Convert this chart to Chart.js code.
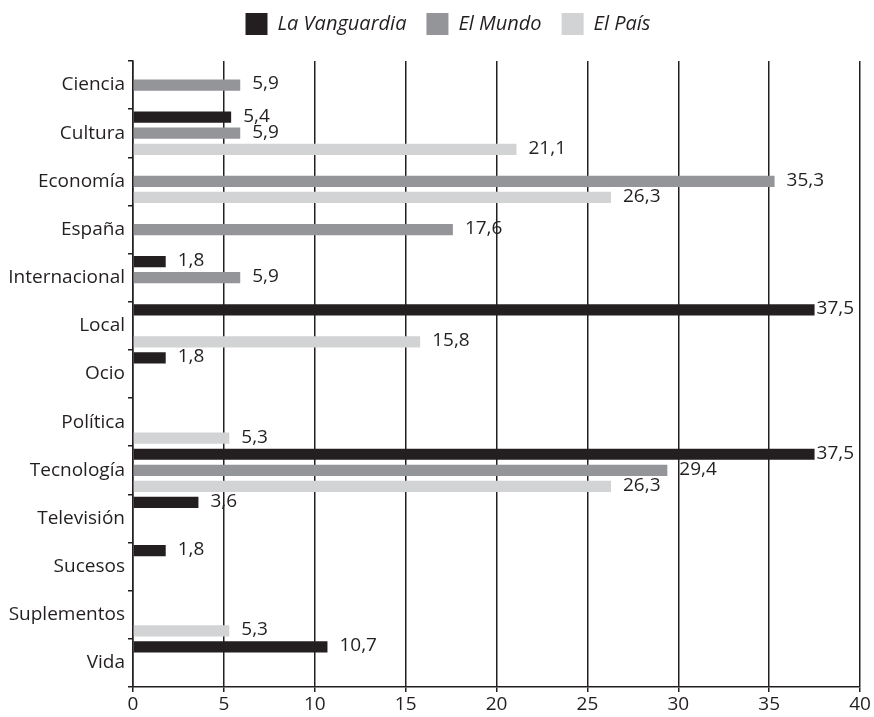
<!DOCTYPE html>
<html>
<head>
<meta charset="utf-8">
<script src="https://cdn.jsdelivr.net/npm/chart.js@4/dist/chart.umd.min.js"></script>
<style>
  html, body { margin: 0; padding: 0; background: #fff; }
  #wrap { width: 874px; height: 717px; }
</style>
</head>
<body>
<div id="wrap"><canvas id="chart" width="874" height="717"></canvas></div>
<script>
const categories = ["Ciencia", "Cultura", "Economía", "España", "Internacional", "Local", "Ocio",
  "Política", "Tecnología", "Televisión", "Sucesos", "Suplementos", "Vida"];
const vanguardia = [null, 5.4, null, null, 1.8, 37.5, 1.8, null, 37.5, 3.6, 1.8, null, 10.7];
const mundo      = [5.9, 5.9, 35.3, 17.6, 5.9, null, null, null, 29.4, null, null, null, null];
const pais       = [null, 21.1, 26.3, null, null, 15.8, null, 5.3, 26.3, null, null, 5.3, null];
const xTicks = [0, 5, 10, 15, 20, 25, 30, 35, 40];

const ink = "#231f20";
const fontFamily = "'Open Sans', sans-serif";

// value labels at the end of each bar, decimal comma
const barLabels = {
  id: "barLabels",
  afterDatasetsDraw(chart) {
    const ctx = chart.ctx;
    const area = chart.chartArea;
    ctx.save();
    ctx.font = "19px " + fontFamily;
    ctx.fillStyle = ink;
    ctx.textBaseline = "middle";
    chart.data.datasets.forEach((ds, i) => {
      const meta = chart.getDatasetMeta(i);
      meta.data.forEach((bar, j) => {
        const v = ds.data[j];
        if (v == null) return;
        const txt = v.toFixed(1).replace(".", ",");
        const w = ctx.measureText(txt).width;
        let x = bar.x + 12;
        if (x + w > area.right) x = bar.x + 2;
        ctx.fillText(txt, x, bar.y - 1);
      });
    });
    ctx.restore();
  }
};

// fixed legend height so the plot starts where it does in the print,
// and the legend row nudged like the original
const legendHeight = {
  id: "legendHeight",
  beforeInit(chart) {
    const fit = chart.legend.fit;
    chart.legend.fit = function () {
      fit.bind(chart.legend)();
      this.height = 61;
    };
  },
  afterLayout(chart) {
    const lg = chart.legend;
    lg.left += 18;
    lg.right += 18;
    lg.top -= 7;
    lg.bottom -= 7;
  }
};

new Chart(document.getElementById("chart"), {
  type: "bar",
  data: {
    labels: categories,
    datasets: [
      { label: "La Vanguardia", data: vanguardia, backgroundColor: ink },
      { label: "El Mundo", data: mundo, backgroundColor: "#939598" },
      { label: "El País", data: pais, backgroundColor: "#d1d3d4" }
    ]
  },
  options: {
    indexAxis: "y",
    responsive: false,
    animation: false,
    categoryPercentage: 1.0,
    barPercentage: 0.7,
    layout: { padding: { right: 14 } },
    plugins: {
      tooltip: { enabled: false },
      legend: {
        position: "top",
        labels: {
          boxWidth: 22,
          boxHeight: 22,
          padding: 20,
          color: ink,
          font: { family: fontFamily, size: 20, style: "italic" }
        }
      }
    },
    scales: {
      x: {
        type: "linear",
        min: 0,
        max: 40,
        afterBuildTicks(axis) { axis.ticks = xTicks.map(v => ({ value: v })); },
        afterFit(axis) { axis.height = 30; },
        grid: { color: ink, lineWidth: 1.5, tickLength: 5, drawTicks: true },
        border: { display: true, color: ink, width: 1.5 },
        ticks: { color: ink, padding: 1, font: { family: fontFamily, size: 19 } }
      },
      y: {
        afterFit(axis) { axis.width = 133; },
        grid: { offset: true, drawOnChartArea: false, color: ink, lineWidth: 1.5, tickLength: 5 },
        border: { display: true, color: ink, width: 1.5 },
        ticks: { color: ink, padding: 3, font: { family: fontFamily, size: 19 } }
      }
    }
  },
  plugins: [barLabels, legendHeight]
});
</script>
</body>
</html>
